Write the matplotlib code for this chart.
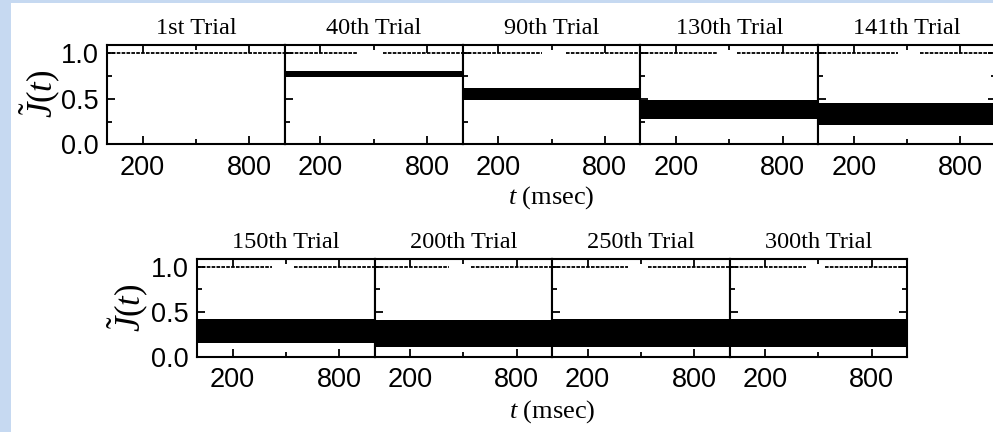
import matplotlib
matplotlib.use('Agg')
import matplotlib.pyplot as plt
from matplotlib.patches import Rectangle

plt.rcParams['font.family'] = 'Liberation Sans'
plt.rcParams['mathtext.fontset'] = 'custom'
plt.rcParams['mathtext.rm'] = 'Liberation Serif'
plt.rcParams['mathtext.it'] = 'Liberation Serif:italic'

# ---- data ----
trials = ['1st Trial', '40th Trial', '90th Trial', '130th Trial', '141th Trial',
          '150th Trial', '200th Trial', '250th Trial', '300th Trial']
band_low = [None, 0.74, 0.49, 0.28, 0.21, 0.15, 0.11, 0.11, 0.11]
band_high = [None, 0.81, 0.62, 0.49, 0.45, 0.42, 0.41, 0.42, 0.42]
top_level = 1.0
gap_start = [None, 410, 445, 430, 450, 420, 420, 430, 430]
gap_end = [None, 550, 580, 545, 575, 545, 545, 540, 540]
t_range = [0, 1000]
xticks_major = [200, 800]
xticks_minor = [500]
yticks_major = [0.0, 0.5, 1.0]
yticks_minor = [0.25, 0.75]
ytick_labels = ['0.0', '0.5', '1.0']

W, H = 993, 432
fig = plt.figure(figsize=(W / 100, H / 100), dpi=100, facecolor='#C6D9F1')
fig.patches.append(Rectangle((11 / W, 0), 1, 1 - 3 / H, transform=fig.transFigure,
                             facecolor='white', edgecolor='none', zorder=-1))


def ax_at(l, r, t, b):
    return fig.add_axes([l / W, 1 - b / H, (r - l) / W, (b - t) / H])


rows = [
    dict(idx=range(0, 5), left=107, width=177.8, top=45, bottom=144.3,
         xlab=(551, 198), ylab=(40, 94)),
    dict(idx=range(5, 9), left=197, width=177.5, top=259, bottom=356.7,
         xlab=(552, 412), ylab=(128, 308)),
]

serif = 'Liberation Serif'
for row in rows:
    n = len(row['idx'])
    for k, i in enumerate(row['idx']):
        l = row['left'] + k * row['width']
        ax = ax_at(l, l + row['width'], row['top'], row['bottom'])
        ax.set_xlim(*t_range)
        ax.set_ylim(0, 1.09)
        # line of saturated weights at J = 1
        if gap_start[i] is None:
            ax.plot(t_range, [top_level, top_level], color='black', lw=1.3,
                    dashes=(2.0, 0.7))
        else:
            ax.plot([t_range[0], gap_start[i]], [top_level, top_level],
                    color='black', lw=1.3, dashes=(2.0, 0.7))
            ax.plot([gap_end[i], t_range[1]], [top_level, top_level],
                    color='black', lw=1.3, dashes=(2.0, 0.7))
        if band_low[i] is not None:
            ax.fill_between(t_range, [band_low[i]] * 2, [band_high[i]] * 2,
                            color='black', lw=0)
        ax.set_xticks(xticks_major)
        ax.set_xticklabels([str(v) for v in xticks_major])
        ax.set_xticks(xticks_minor, minor=True)
        ax.set_yticks(yticks_major)
        ax.set_yticks(yticks_minor, minor=True)
        if k == 0:
            ax.set_yticklabels(ytick_labels)
        else:
            ax.set_yticklabels([])
        ax.tick_params(which='both', direction='in', top=True,
                       right=(k == n - 1), width=1.3, labelsize=19.5,
                       colors='black')
        ax.tick_params(which='major', length=6, pad=7.5)
        ax.tick_params(which='minor', length=3.5)
        ax.tick_params(axis='y', which='major', pad=6)
        for s in ax.spines.values():
            s.set_linewidth(1.5)
        ax.set_title(trials[i], fontfamily=serif, fontsize=17.5, pad=8)
    fig.text(row['xlab'][0] / W, 1 - row['xlab'][1] / H, r'$t$ (msec)',
             ha='center', va='center', fontfamily=serif, fontsize=19)
    fig.text(row['ylab'][0] / W, 1 - row['ylab'][1] / H, r'$\tilde{J}(t)$',
             ha='center', va='center', rotation=90, fontsize=25)

fig.savefig('out.png', dpi=100, facecolor=fig.get_facecolor())
